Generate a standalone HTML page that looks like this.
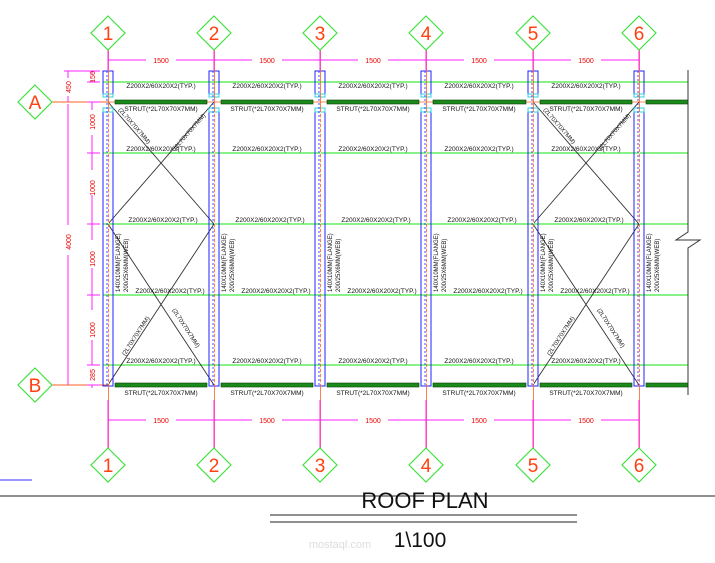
<!DOCTYPE html>
<html><head><meta charset="utf-8"><style>
html,body{margin:0;padding:0;background:#fff;}
svg{display:block;font-family:"Liberation Sans",sans-serif;}
.lb{font-size:6.5px;fill:#111;text-anchor:middle;}
.dm{font-size:7px;fill:#e00;text-anchor:middle;}
.bn{font-size:19px;fill:#ff4010;text-anchor:middle;}
.vt{font-size:6px;fill:#111;}
</style></head><body>
<svg width="715" height="563" viewBox="0 0 715 563" xmlns="http://www.w3.org/2000/svg">
<defs>
<g id="col">
  <rect x="-5" y="71" width="10" height="23" fill="none" stroke="#2020ff" stroke-width="1"/>
  <rect x="-5" y="112" width="10" height="274" fill="none" stroke="#2020ff" stroke-width="1"/>
  <rect x="-5" y="94" width="10" height="3" fill="none" stroke="#30d0e0" stroke-width="1"/>
  <rect x="-5" y="108" width="10" height="4" fill="none" stroke="#30d0e0" stroke-width="1"/>
  <line x1="-1" y1="71" x2="-1" y2="386" stroke="#2020ff" stroke-width="0.8" stroke-dasharray="2,2"/>
  <line x1="0.5" y1="50" x2="0.5" y2="448" stroke="#ff6020" stroke-width="0.8"/>
  <line x1="0.5" y1="112" x2="0.5" y2="386" stroke="#fff" stroke-width="0.8" stroke-dasharray="2,3"/>
</g>
<g id="dia"><polygon points="0,-17 17,0 0,17 -17,0" fill="#fff" stroke="#40e040" stroke-width="1.2"/></g>
</defs>

<!-- grid lines orange rows -->
<line x1="52" y1="102" x2="108" y2="102" stroke="#ff6020" stroke-width="1"/>
<line x1="52" y1="385" x2="108" y2="385" stroke="#ff6020" stroke-width="1"/>
<line x1="108" y1="102" x2="660" y2="102" stroke="#ff6020" stroke-width="0.8"/>

<!-- purlins green -->
<g stroke="#60ee60" stroke-width="1.6">
<line x1="103" y1="82" x2="688" y2="82"/>
<line x1="103" y1="153" x2="688" y2="153"/>
<line x1="103" y1="224" x2="688" y2="224"/>
<line x1="103" y1="295" x2="688" y2="295"/>
<line x1="103" y1="365" x2="688" y2="365"/>
</g>

<!-- struts -->
<g fill="#1a8a1a" stroke="#0a3a0a" stroke-width="0.6">
<rect x="115" y="100" width="92" height="4"/><rect x="221" y="100" width="92" height="4"/><rect x="327" y="100" width="92" height="4"/><rect x="433" y="100" width="93" height="4"/><rect x="540" y="100" width="92" height="4"/><rect x="646" y="100" width="42" height="4"/>
<rect x="115" y="383" width="92" height="4"/><rect x="221" y="383" width="92" height="4"/><rect x="327" y="383" width="92" height="4"/><rect x="433" y="383" width="93" height="4"/><rect x="540" y="383" width="92" height="4"/><rect x="646" y="383" width="42" height="4"/>
</g>

<!-- bracing -->
<g stroke="#333" stroke-width="0.9">
<line x1="108" y1="102" x2="214" y2="224"/><line x1="214" y1="102" x2="108" y2="224"/>
<line x1="108" y1="224" x2="214" y2="385"/><line x1="214" y1="224" x2="108" y2="385"/>
<line x1="533" y1="102" x2="639" y2="224"/><line x1="639" y1="102" x2="533" y2="224"/>
<line x1="533" y1="224" x2="639" y2="385"/><line x1="639" y1="224" x2="533" y2="385"/>
</g>

<!-- columns -->
<use href="#col" x="108"/><use href="#col" x="214"/><use href="#col" x="320"/><use href="#col" x="426"/><use href="#col" x="533"/><use href="#col" x="639"/>

<!-- purlin labels -->
<g class="lb">
<text x="161" y="88">Z200X2/60X20X2(TYP.)</text><text x="267" y="88">Z200X2/60X20X2(TYP.)</text><text x="373" y="88">Z200X2/60X20X2(TYP.)</text><text x="479" y="88">Z200X2/60X20X2(TYP.)</text><text x="586" y="88">Z200X2/60X20X2(TYP.)</text>
<text x="161" y="151">Z200X2/60X20X2(TYP.)</text><text x="267" y="151">Z200X2/60X20X2(TYP.)</text><text x="373" y="151">Z200X2/60X20X2(TYP.)</text><text x="479" y="151">Z200X2/60X20X2(TYP.)</text><text x="586" y="151">Z200X2/60X20X2(TYP.)</text>
<text x="163" y="222">Z200X2/60X20X2(TYP.)</text><text x="270" y="222">Z200X2/60X20X2(TYP.)</text><text x="376" y="222">Z200X2/60X20X2(TYP.)</text><text x="482" y="222">Z200X2/60X20X2(TYP.)</text><text x="589" y="222">Z200X2/60X20X2(TYP.)</text>
<text x="170" y="293">Z200X2/60X20X2(TYP.)</text><text x="276" y="293">Z200X2/60X20X2(TYP.)</text><text x="382" y="293">Z200X2/60X20X2(TYP.)</text><text x="488" y="293">Z200X2/60X20X2(TYP.)</text><text x="595" y="293">Z200X2/60X20X2(TYP.)</text>
<text x="161" y="363">Z200X2/60X20X2(TYP.)</text><text x="267" y="363">Z200X2/60X20X2(TYP.)</text><text x="373" y="363">Z200X2/60X20X2(TYP.)</text><text x="479" y="363">Z200X2/60X20X2(TYP.)</text><text x="586" y="363">Z200X2/60X20X2(TYP.)</text>
<text x="161" y="111">STRUT(*2L70X70X7MM)</text><text x="267" y="111">STRUT(*2L70X70X7MM)</text><text x="373" y="111">STRUT(*2L70X70X7MM)</text><text x="479" y="111">STRUT(*2L70X70X7MM)</text><text x="586" y="111">STRUT(*2L70X70X7MM)</text>
<text x="161" y="395">STRUT(*2L70X70X7MM)</text><text x="267" y="395">STRUT(*2L70X70X7MM)</text><text x="373" y="395">STRUT(*2L70X70X7MM)</text><text x="479" y="395">STRUT(*2L70X70X7MM)</text><text x="586" y="395">STRUT(*2L70X70X7MM)</text>
</g>
<!-- brace labels -->
<g class="vt">
<text transform="translate(118,110) rotate(49)">(2L70X70X7MM)</text>
<text transform="translate(176,150) rotate(-49)">(2L70X70X7MM)</text>
<text transform="translate(125,356) rotate(-57)">(2L70X70X7MM)</text>
<text transform="translate(172,310) rotate(57)">(2L70X70X7MM)</text>
<text transform="translate(543,110) rotate(49)">(2L70X70X7MM)</text>
<text transform="translate(601,150) rotate(-49)">(2L70X70X7MM)</text>
<text transform="translate(550,356) rotate(-57)">(2L70X70X7MM)</text>
<text transform="translate(597,310) rotate(57)">(2L70X70X7MM)</text>
</g>
<!-- column vertical labels -->
<g class="vt">
<text transform="translate(120,292) rotate(-90)">140X10MM(FLANGE)</text><text transform="translate(128,292) rotate(-90)">200/25X6MM(WEB)</text>
<text transform="translate(226,292) rotate(-90)">140X10MM(FLANGE)</text><text transform="translate(234,292) rotate(-90)">200/25X6MM(WEB)</text>
<text transform="translate(332,292) rotate(-90)">140X10MM(FLANGE)</text><text transform="translate(340,292) rotate(-90)">200/25X6MM(WEB)</text>
<text transform="translate(438,292) rotate(-90)">140X10MM(FLANGE)</text><text transform="translate(446,292) rotate(-90)">200/25X6MM(WEB)</text>
<text transform="translate(545,292) rotate(-90)">140X10MM(FLANGE)</text><text transform="translate(553,292) rotate(-90)">200/25X6MM(WEB)</text>
<text transform="translate(651,292) rotate(-90)">140X10MM(FLANGE)</text><text transform="translate(659,292) rotate(-90)">200/25X6MM(WEB)</text>
</g>

<!-- magenta grid extensions and dims -->
<g stroke="#ff20ff" stroke-width="1">
<line x1="108" y1="50" x2="108" y2="70"/><line x1="214" y1="50" x2="214" y2="70"/><line x1="320" y1="50" x2="320" y2="70"/><line x1="426" y1="50" x2="426" y2="70"/><line x1="533" y1="50" x2="533" y2="70"/><line x1="639" y1="50" x2="639" y2="70"/>
<line x1="108" y1="400" x2="108" y2="448"/><line x1="214" y1="400" x2="214" y2="448"/><line x1="320" y1="400" x2="320" y2="448"/><line x1="426" y1="400" x2="426" y2="448"/><line x1="533" y1="400" x2="533" y2="448"/><line x1="639" y1="400" x2="639" y2="448"/>
<line x1="108" y1="60" x2="146" y2="60"/><line x1="176" y1="60" x2="252" y2="60"/><line x1="282" y1="60" x2="358" y2="60"/><line x1="388" y1="60" x2="464" y2="60"/><line x1="494" y1="60" x2="571" y2="60"/><line x1="601" y1="60" x2="639" y2="60"/>
<line x1="108" y1="420" x2="146" y2="420"/><line x1="176" y1="420" x2="252" y2="420"/><line x1="282" y1="420" x2="358" y2="420"/><line x1="388" y1="420" x2="464" y2="420"/><line x1="494" y1="420" x2="571" y2="420"/><line x1="601" y1="420" x2="639" y2="420"/>
<line x1="68" y1="71" x2="68" y2="78"/><line x1="68" y1="96" x2="68" y2="102"/><line x1="64" y1="71" x2="100" y2="71"/>
<line x1="68" y1="104" x2="68" y2="225"/><line x1="68" y1="255" x2="68" y2="385"/>
<line x1="92" y1="71" x2="92" y2="74"/><line x1="92" y1="80" x2="92" y2="82"/>
<line x1="92" y1="102" x2="92" y2="110"/><line x1="92" y1="135" x2="92" y2="170"/><line x1="92" y1="195" x2="92" y2="240"/><line x1="92" y1="268" x2="92" y2="310"/><line x1="92" y1="340" x2="92" y2="365"/><line x1="92" y1="385" x2="92" y2="388"/>
<line x1="87" y1="82" x2="100" y2="82"/><line x1="87" y1="153" x2="100" y2="153"/><line x1="87" y1="224" x2="100" y2="224"/><line x1="87" y1="295" x2="100" y2="295"/><line x1="87" y1="365" x2="100" y2="365"/><line x1="87" y1="102" x2="100" y2="102"/><line x1="87" y1="385" x2="100" y2="385"/>
</g>
<g class="dm">
<text x="161" y="63">1500</text><text x="267" y="63">1500</text><text x="373" y="63">1500</text><text x="479" y="63">1500</text><text x="586" y="63">1500</text>
<text x="161" y="423">1500</text><text x="267" y="423">1500</text><text x="373" y="423">1500</text><text x="479" y="423">1500</text><text x="586" y="423">1500</text>
<text transform="translate(71,87) rotate(-90)">450</text>
<text transform="translate(71,242) rotate(-90)">4000</text>
<text transform="translate(95,77) rotate(-90)">150</text>
<text transform="translate(95,122) rotate(-90)">1000</text>
<text transform="translate(95,188) rotate(-90)">1000</text>
<text transform="translate(95,259) rotate(-90)">1000</text>
<text transform="translate(95,330) rotate(-90)">1000</text>
<text transform="translate(95,375) rotate(-90)">285</text>
</g>

<!-- right break line -->
<path d="M688,70 V232 L676,240 H700 L688,248 V395" fill="none" stroke="#333" stroke-width="1"/>

<!-- bubbles -->
<use href="#dia" x="108" y="33"/><use href="#dia" x="214" y="33"/><use href="#dia" x="320" y="33"/><use href="#dia" x="426" y="33"/><use href="#dia" x="533" y="33"/><use href="#dia" x="639" y="33"/>
<use href="#dia" x="108" y="465"/><use href="#dia" x="214" y="465"/><use href="#dia" x="320" y="465"/><use href="#dia" x="426" y="465"/><use href="#dia" x="533" y="465"/><use href="#dia" x="639" y="465"/>
<use href="#dia" x="35" y="102"/><use href="#dia" x="35" y="385"/>
<g class="bn">
<text x="108" y="40">1</text><text x="214" y="40">2</text><text x="320" y="40">3</text><text x="426" y="40">4</text><text x="533" y="40">5</text><text x="639" y="40">6</text>
<text x="108" y="472">1</text><text x="214" y="472">2</text><text x="320" y="472">3</text><text x="426" y="472">4</text><text x="533" y="472">5</text><text x="639" y="472">6</text>
<text x="35" y="109">A</text><text x="35" y="392">B</text>
</g>

<!-- title -->
<line x1="0" y1="480" x2="32" y2="480" stroke="#3030ff" stroke-width="1"/>
<line x1="0" y1="496" x2="715" y2="496" stroke="#222" stroke-width="1"/>
<text x="425" y="508" text-anchor="middle" font-size="22" fill="#111">ROOF PLAN</text>
<line x1="270" y1="515" x2="577" y2="515" stroke="#222" stroke-width="1"/>
<line x1="270" y1="522" x2="577" y2="522" stroke="#222" stroke-width="1"/>
<text x="420" y="547" text-anchor="middle" font-size="21" fill="#111">1\100</text>
<text x="340" y="548" text-anchor="middle" font-size="11" fill="#ddd">mostaql.com</text>
</svg>
</body></html>
